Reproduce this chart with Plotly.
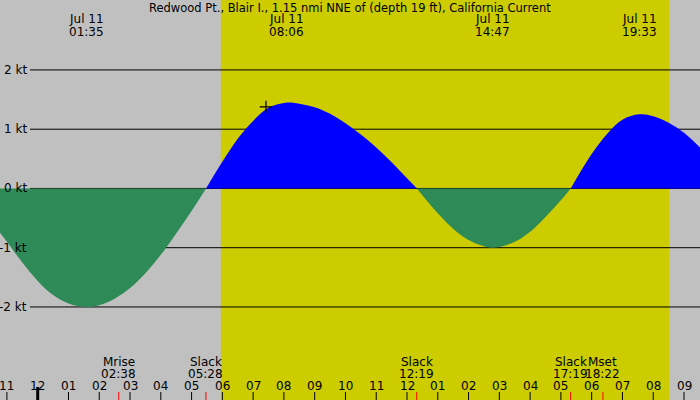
import plotly.graph_objects as go

# ---------------- data ----------------
title = "Redwood Pt., Blair I., 1.15 nmi NNE of (depth 19 ft), California Current"
# hours since midnight Jul 11, current speed in knots
hours = [-1.3, -1.0, -0.5, 0.0, 0.5, 1.0, 1.58, 2.0, 2.5, 3.0, 3.5, 4.0, 4.5, 5.0, 5.47,
         6.0, 6.5, 7.0, 7.5, 8.1, 8.5, 9.0, 9.5, 10.0, 10.5, 11.0, 11.5, 12.0, 12.32,
         13.0, 13.5, 14.0, 14.78, 15.5, 16.0, 16.5, 17.0, 17.32,
         18.0, 18.5, 19.0, 19.55, 20.0, 20.5, 21.0, 21.6]
knots = [-0.70, -0.90, -1.25, -1.56, -1.80, -1.94, -2.00, -1.97, -1.86, -1.68, -1.43, -1.12, -0.76, -0.38, 0.0,
         0.45, 0.84, 1.14, 1.36, 1.45, 1.43, 1.37, 1.26, 1.10, 0.91, 0.69, 0.44, 0.17, 0.0,
         -0.42, -0.68, -0.87, -1.00, -0.90, -0.73, -0.48, -0.20, 0.0,
         0.58, 0.92, 1.16, 1.25, 1.22, 1.11, 0.94, 0.65]

peak_date = "Jul 11"
peak_times = ["01:35", "08:06", "14:47", "19:33"]

event_names = ["Mrise", "Slack", "Slack", "Slack", "Mset"]
event_times = ["02:38", "05:28", "12:19", "17:19", "18:22"]

hour_ticks = list(range(-1, 22))
hour_labels = ["11", "12", "01", "02", "03", "04", "05", "06", "07", "08", "09", "10", "11",
               "12", "01", "02", "03", "04", "05", "06", "07", "08", "09"]

y_ticks = [2, 1, 0, -1, -2]
y_labels = ["2 kt", "1 kt", "0 kt", "-1 kt", "-2 kt"]

daylight = ["05:57", "20:31"]
marker_time = ["07:25"]
marker_value = [1.375]

X_RANGE = [-1.225, 21.52]
Y_RANGE = [-3.57, 3.18]

FONT = "DejaVu Sans"
BLUE = "#0000ff"
GREEN = "#2e8b57"
YELLOW = "#cccc00"
GRAY = "#c0c0c0"


def to_h(s):
    hh, mm = s.split(":")
    return int(hh) + int(mm) / 60.0


# ---------------- figure ----------------
fig = go.Figure()

# split into segments between slack (zero) points
segments = []
cur_x, cur_y = [], []
for h, v in zip(hours, knots):
    cur_x.append(h)
    cur_y.append(v)
    if v == 0 and len(cur_x) > 1:
        segments.append((cur_x, cur_y))
        cur_x, cur_y = [h], [v]
if len(cur_x) > 1:
    segments.append((cur_x, cur_y))

for sx, sy in segments:
    col = BLUE if sum(sy) > 0 else GREEN
    fig.add_trace(go.Scatter(
        x=sx, y=sy, mode="lines", line=dict(color=col, width=0, shape="spline"),
        fill="tozeroy", fillcolor=col, hoverinfo="skip", showlegend=False))

fig.add_trace(go.Scatter(
    x=[to_h(t) for t in marker_time], y=marker_value, mode="markers",
    marker=dict(symbol="cross-thin", size=9, line=dict(color="black", width=1.2)),
    showlegend=False, hoverinfo="skip"))

shapes = []
# daylight band
shapes.append(dict(type="rect", xref="x", yref="paper", x0=to_h(daylight[0]), x1=to_h(daylight[1]),
                   y0=0, y1=1, fillcolor=YELLOW, line=dict(width=0), layer="below"))
# horizontal reference lines
for yv in y_ticks:
    shapes.append(dict(type="line", xref="paper", yref="y", x0=30 / 700, x1=1, y0=yv, y1=yv,
                       line=dict(color="black", width=1), layer="below"))
# hour ticks
for h in hour_ticks:
    midnight = (h == 0)
    shapes.append(dict(type="line", xref="x", yref="paper", x0=h, x1=h, y0=0,
                       y1=(13 if midnight else 8) / 400,
                       line=dict(color="black", width=3 if midnight else 1)))
# event ticks
for t in event_times:
    shapes.append(dict(type="line", xref="x", yref="paper", x0=to_h(t), x1=to_h(t), y0=0, y1=8 / 400,
                       line=dict(color="red", width=1)))

ann = []
fnt = dict(family=FONT, size=12, color="black")
ann.append(dict(text=title, xref="paper", yref="paper", x=0.5, y=1 - 7.5 / 400, showarrow=False,
                font=dict(family=FONT, size=11.5, color="black"), xanchor="center", yanchor="middle"))
for t in peak_times:
    ann.append(dict(text=peak_date, xref="x", yref="paper", x=to_h(t), y=1 - 19.5 / 400,
                    showarrow=False, font=fnt, xanchor="center", yanchor="middle"))
    ann.append(dict(text=t, xref="x", yref="paper", x=to_h(t), y=1 - 31.7 / 400,
                    showarrow=False, font=fnt, xanchor="center", yanchor="middle"))
for n, t in zip(event_names, event_times):
    ann.append(dict(text=n, xref="x", yref="paper", x=to_h(t), y=1 - 361.7 / 400,
                    showarrow=False, font=fnt, xanchor="center", yanchor="middle"))
    ann.append(dict(text=t, xref="x", yref="paper", x=to_h(t), y=1 - 374 / 400,
                    showarrow=False, font=fnt, xanchor="center", yanchor="middle"))
for h, lab in zip(hour_ticks, hour_labels):
    ann.append(dict(text=lab, xref="x", yref="paper", x=h, y=1 - 385.5 / 400,
                    showarrow=False, font=fnt, xanchor="center", yanchor="middle"))
for yv, lab in zip(y_ticks, y_labels):
    ann.append(dict(text=lab, xref="paper", yref="y", x=28.5 / 700, y=yv,
                    showarrow=False, font=fnt, xanchor="right", yanchor="middle"))

fig.update_layout(
    width=700, height=400, margin=dict(l=0, r=0, t=0, b=0),
    paper_bgcolor=GRAY, plot_bgcolor=GRAY,
    xaxis=dict(range=X_RANGE, visible=False, fixedrange=True),
    yaxis=dict(range=Y_RANGE, visible=False, fixedrange=True),
    shapes=shapes, annotations=ann, showlegend=False,
)

fig.write_html("out.html", config={"displayModeBar": False})
